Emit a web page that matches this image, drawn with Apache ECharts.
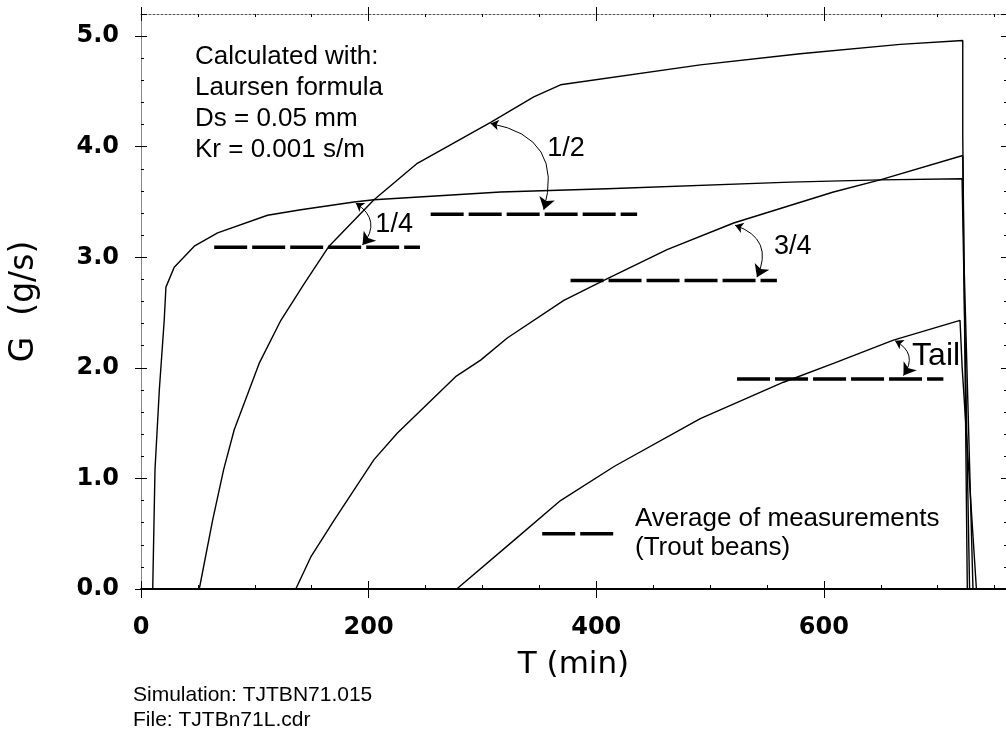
<!DOCTYPE html>
<html><head><meta charset="utf-8">
<script src="https://cdn.jsdelivr.net/npm/echarts@6/dist/echarts.min.js"></script>
<style>html,body{margin:0;padding:0;background:#fff}#c{width:1006px;height:732px}</style>
</head><body><div id="c"></div>
<script>
// ---- data (T in min, G in g/s) ----
const quarterT = [10.3, 12.3, 16.1, 20.4, 21.9, 29.2, 46.8, 67.3, 111.2, 140.4, 187.2, 204.7, 315.9, 409.6, 570.4, 649.4, 721.4, 723, 724.5, 728];
const quarterG = [0, 1.08, 1.80, 2.43, 2.73, 2.91, 3.10, 3.22, 3.38, 3.43, 3.50, 3.52, 3.59, 3.62, 3.68, 3.70, 3.71, 3.71, 2.0, 0];
const halfT = [51.2, 62.9, 72.6, 81.9, 103.8, 122.9, 143.3, 165.2, 204.7, 242.8, 307.2, 345.1, 368.6, 491.4, 579.2, 667, 722, 722, 723.5, 726];
const halfG = [0, 0.62, 1.08, 1.44, 2.04, 2.43, 2.76, 3.10, 3.52, 3.85, 4.22, 4.45, 4.56, 4.74, 4.84, 4.925, 4.96, 4.12, 2.5, 0];
const threeT = [136, 149.2, 169.6, 204.7, 225.3, 276.4, 298.4, 321.8, 371.5, 406.6, 462.2, 520.7, 608.4, 649.4, 722, 723, 731];
const threeG = [0, 0.29, 0.62, 1.17, 1.41, 1.92, 2.07, 2.27, 2.61, 2.79, 3.07, 3.31, 3.59, 3.70, 3.92, 3.0, 0];
const tailT = [277.4, 327.6, 368.6, 416, 491.4, 564.5, 608.4, 661.1, 719.6, 721.5, 734];
const tailG = [0, 0.44, 0.80, 1.11, 1.54, 1.87, 2.04, 2.25, 2.43, 2.0, 0];

// measured averages (dashed lines)
const measStartT = [64.3, 254.5, 377.4, 523.7];
const measEndT   = [245.1, 435.9, 558.7, 705];
const measG      = [3.09, 3.39, 2.79, 1.90];
const legendSampleT = [352.5, 417];
const legendSampleG = 0.50;

// double-headed arrows (curve point -> measured line)
const arrowFromT = [188.7, 307.2, 522, 662.6];
const arrowFromG = [3.49, 4.21, 3.29, 2.245];
const arrowToT   = [194.6, 353.9, 541.2, 669.9];
const arrowToG   = [3.11, 3.43, 2.82, 1.93];

// annotation labels
const labelNames = ['1/4', '1/2', '3/4', 'Tail'];
const labelT = [222.4, 373.4, 572.6, 677.5];
const labelG = [3.30, 3.98, 3.10, 2.11];

// axis ticks
const xMin = 0, xMax = 760, xMajor = 200, xMinor = 50;
const yMin = 0, yMax = 5.2, yMajor = 1, yMinor = 0.2;

// ---- chart ----
const pairs = (t, g) => t.map((v, i) => [v, g[i]]);
const BLACK = '#000';
const TEXTFONT = '"Liberation Sans", Arial, sans-serif';
const TICKFONT = '"DejaVu Sans", sans-serif';

function xAx(pos, interval, tickLen, inside, extra) {
  return Object.assign({
    type: 'value', position: pos, min: xMin, max: xMax, interval: interval,
    axisLine: { show: false, onZero: false },
    axisTick: { show: true, length: tickLen, inside: inside, lineStyle: { color: BLACK, width: 1 } },
    axisLabel: { show: false }, splitLine: { show: false }
  }, extra || {});
}
function yAx(pos, interval, tickLen, inside, extra) {
  return Object.assign({
    type: 'value', position: pos, min: yMin, max: yMax, interval: interval,
    axisLine: { show: false, onZero: false },
    axisTick: { show: true, length: tickLen, inside: inside, lineStyle: { color: BLACK, width: 1 } },
    axisLabel: { show: false }, splitLine: { show: false }
  }, extra || {});
}

const curveStyle = { color: BLACK, width: 1.4 };
const dashStyle = { color: BLACK, width: 3.5, type: [33, 5], cap: 'butt' };

const series = [];
[[quarterT, quarterG], [halfT, halfG], [threeT, threeG], [tailT, tailG]].forEach(([t, g]) => {
  series.push({ type: 'line', data: pairs(t, g), symbol: 'none', lineStyle: curveStyle, silent: true, animation: false, z: 3 });
});
measG.forEach((g, i) => {
  series.push({ type: 'line', data: [[measStartT[i], g], [measEndT[i], g]], symbol: 'none', lineStyle: dashStyle, silent: true, animation: false, z: 2 });
});
series.push({ type: 'line', data: [[legendSampleT[0], legendSampleG], [legendSampleT[1], legendSampleG]], symbol: 'none', lineStyle: dashStyle, silent: true, animation: false });

series.push({
  type: 'scatter', symbolSize: 0, silent: true, animation: false, z: 4,
  itemStyle: { opacity: 1 },
  data: labelNames.map((n, i) => ({
    name: n, value: [labelT[i], labelG[i]],
    label: n === 'Tail'
      ? { show: true, position: 'right', distance: 0, formatter: '{b}', color: BLACK, opacity: 1, fontFamily: TEXTFONT, fontSize: 32 }
      : { show: true, position: 'inside', formatter: '{b}', color: BLACK, opacity: 1, textBorderWidth: 0, fontFamily: TEXTFONT, fontSize: 27 }
  }))
});

series.push({
  type: 'lines', coordinateSystem: 'cartesian2d', xAxisIndex: 0, yAxisIndex: 0,
  silent: true, animation: false, z: 5,
  symbol: ['arrow', 'arrow'], symbolSize: [8, 12],
  lineStyle: { color: BLACK, width: 1, opacity: 1, curveness: 0.55 },
  data: arrowFromT.map((t, i) => ({ coords: [[t, arrowFromG[i]], [arrowToT[i], arrowToG[i]]] }))
});

const option = {
  animation: false,
  backgroundColor: '#fff',
  grid: { left: 140, right: 0, top: 14, bottom: 143, containLabel: false },
  xAxis: [
    xAx('bottom', xMajor, 9, false, {
      axisLine: { show: true, onZero: false, lineStyle: { color: BLACK, width: 2 } },
      axisLabel: { show: true, margin: 27, showMaxLabel: false, color: BLACK, fontFamily: TICKFONT, fontWeight: 'bold', fontSize: 24 },
      name: 'T (min)', nameLocation: 'middle', nameGap: 60,
      nameTextStyle: { color: BLACK, fontFamily: TICKFONT, fontSize: 31 }
    }),
    xAx('bottom', xMajor, 8, true),
    xAx('bottom', xMinor, 4, true),
    xAx('top', xMajor, 7, false, {
      axisLine: { show: true, onZero: false, lineStyle: { color: '#555', width: 1, type: [2, 2] } }
    }),
    xAx('top', xMajor, 7, true),
    xAx('top', xMinor, 3, true)
  ],
  yAxis: [
    yAx('left', yMajor, 6, false, {
      axisLine: { show: true, onZero: false, lineStyle: { color: '#888', width: 1 } },
      axisLabel: { show: true, margin: 22, showMaxLabel: false, color: BLACK, fontFamily: TICKFONT, fontWeight: 'bold', fontSize: 24,
                   formatter: v => v.toFixed(1) },
      name: 'G  (g/s)', nameLocation: 'middle', nameRotate: 90, nameGap: 100,
      nameTextStyle: { color: BLACK, fontFamily: TICKFONT, fontSize: 33 }
    }),
    yAx('left', yMajor, 6, true),
    yAx('left', yMinor, 3, true),
    yAx('right', yMajor, 5, true),
    yAx('right', yMinor, 2, true)
  ],
  series: series,
  graphic: [
    { type: 'text', left: 195, top: 41, silent: true,
      style: { text: 'Calculated with:\nLaursen formula\nDs = 0.05 mm\nKr = 0.001 s/m', fill: BLACK, font: '26px ' + TEXTFONT, lineHeight: 31 } },
    { type: 'text', left: 635, top: 504, silent: true,
      style: { text: 'Average of measurements\n(Trout beans)', fill: BLACK, font: '26px ' + TEXTFONT, lineHeight: 29 } },
    { type: 'text', left: 133, top: 683, silent: true,
      style: { text: 'Simulation: TJTBN71.015\nFile: TJTBn71L.cdr', fill: BLACK, font: '21px ' + TEXTFONT, lineHeight: 25 } }
  ]
};

const chart = echarts.init(document.getElementById('c'), null, { renderer: 'canvas' });
chart.setOption(option);
</script>
</body></html>
